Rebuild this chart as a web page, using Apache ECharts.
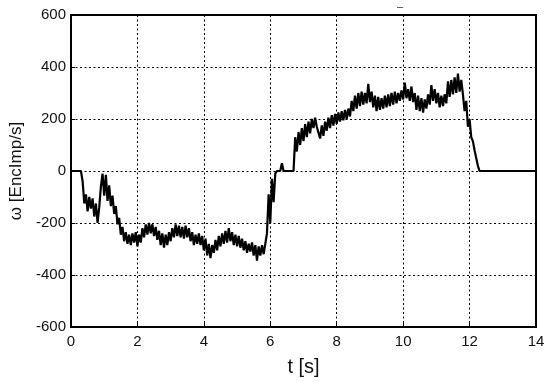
<!DOCTYPE html>
<html>
<head>
<meta charset="utf-8">
<script src="https://cdn.jsdelivr.net/npm/echarts@6/dist/echarts.min.js"></script>
<style>
  html, body { margin: 0; padding: 0; background: #fff; }
  #chart { width: 550px; height: 382px; }
</style>
</head>
<body>
<div id="chart"></div>
<script>
// sample spacing of the recorded speed [s]
const dt = 0.05;

const xTicks = [0, 2, 4, 6, 8, 10, 12, 14];
const yTicks = [-600, -400, -200, 0, 200, 400, 600];

// omega [EncImp/s], one value every dt
const omega = [
	0, 0, 0, 0, 0, 0, 0, -40, -125, -90,
	-155, -100, -145, -105, -175, -125, -200, -140, -60, -10,
	-95, -15, -115, -55, -135, -95, -165, -135, -205, -180,
	-245, -215, -270, -235, -280, -245, -285, -240, -275, -235,
	-290, -245, -275, -220, -255, -205, -245, -200, -240, -205,
	-250, -215, -265, -230, -285, -240, -295, -245, -285, -235,
	-270, -220, -255, -205, -250, -210, -255, -215, -260, -210,
	-255, -220, -270, -235, -285, -245, -280, -240, -285, -250,
	-305, -260, -325, -280, -335, -285, -315, -265, -305, -250,
	-290, -240, -280, -230, -275, -220, -270, -235, -285, -245,
	-290, -250, -295, -260, -305, -270, -315, -280, -310, -275,
	-325, -285, -345, -290, -325, -285, -320, -280, -240, -90,
	-200, -30, -120, -10, 0, 0, 0, 30, 0, 0,
	0, 0, 0, 0, 0, 130, 75, 150, 100, 165,
	115, 180, 130, 190, 145, 200, 165, 205, 170, 165,
	125, 175, 135, 190, 155, 205, 165, 215, 175, 220,
	180, 225, 190, 230, 195, 235, 200, 240, 210, 270,
	230, 290, 240, 300, 250, 305, 255, 300, 260, 335,
	265, 305, 245, 290, 230, 285, 235, 280, 240, 290,
	245, 295, 250, 300, 255, 305, 260, 300, 270, 310,
	275, 340, 280, 315, 270, 325, 265, 300, 235, 290,
	230, 280, 225, 275, 240, 295, 255, 330, 270, 315,
	260, 300, 245, 290, 250, 295, 260, 345, 285, 350,
	295, 360, 300, 375, 305, 350, 295, 230, 270, 170,
	200, 130, 115, 80, 50, 20, 0, 0, 0, 0,
	0, 0, 0, 0, 0, 0, 0, 0, 0, 0,
	0, 0, 0, 0, 0, 0, 0, 0, 0, 0,
	0, 0, 0, 0, 0, 0, 0, 0, 0, 0,
	0
];

const points = omega.map((v, i) => [+(i * dt).toFixed(2), v]);

const chart = echarts.init(document.getElementById("chart"), null, { renderer: "canvas" });

const labelFont = {
	color: "#111",
	fontFamily: "Liberation Sans, Arial, sans-serif",
	fontSize: 15,
};

chart.setOption({
	animation: false,
	backgroundColor: "#fff",
	title: {
		text: "–",
		left: 392,
		top: -4,
		textStyle: { fontSize: 11, color: "#333", fontWeight: "normal" },
	},
	grid: {
		left: 71,
		right: 14,
		top: 15,
		bottom: 49,
		show: true,
		borderColor: "#000",
		borderWidth: 2,
	},
	xAxis: {
		type: "value",
		min: xTicks[0],
		max: xTicks[xTicks.length - 1],
		interval: 2,
		name: "t [s]",
		nameLocation: "middle",
		nameGap: 30,
		nameTextStyle: { ...labelFont, fontSize: 20 },
		axisLine: { show: true, onZero: false, lineStyle: { color: "#000", width: 2 } },
		axisTick: { show: true, inside: true, length: 4, lineStyle: { color: "#000" } },
		axisLabel: { ...labelFont, margin: 7 },
		splitLine: { show: true, lineStyle: { color: "#000", type: [2, 2.5], width: 1 } },
	},
	yAxis: {
		type: "value",
		min: yTicks[0],
		max: yTicks[yTicks.length - 1],
		interval: 200,
		name: "ω [EncImp/s]",
		nameLocation: "middle",
		nameGap: 46,
		nameTextStyle: { ...labelFont, fontSize: 17 },
		axisLine: { show: true, onZero: false, lineStyle: { color: "#000", width: 2 } },
		axisTick: { show: true, inside: true, length: 4, lineStyle: { color: "#000" } },
		axisLabel: { ...labelFont, margin: 5 },
		splitLine: { show: true, lineStyle: { color: "#000", type: [2, 2.5], width: 1 } },
	},
	series: [
		{
			type: "line",
			name: "omega",
			data: points,
			showSymbol: false,
			sampling: null,
			lineStyle: { color: "#000", width: 2.2 },
		},
	],
});
</script>
</body>
</html>
